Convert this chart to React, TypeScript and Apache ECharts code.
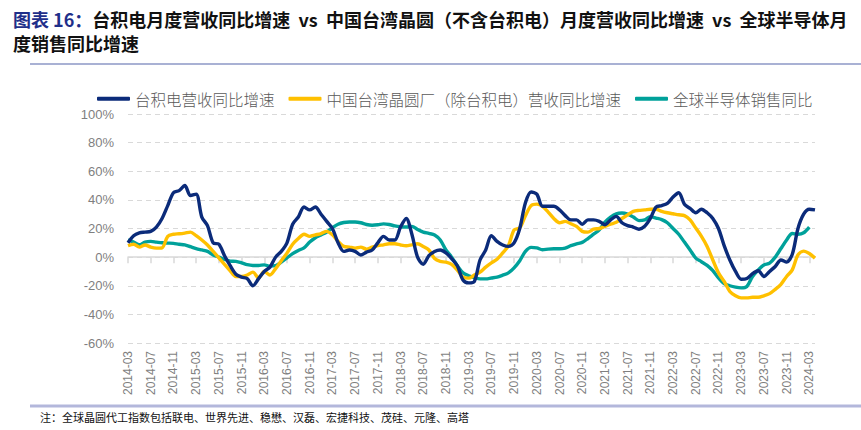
import React, { useEffect, useRef } from "react";
import * as echarts from "echarts";

// Monthly categories 2014-03 .. 2024-04
const startYear = 2014;
const startMonth = 3;
const monthCount = 122;
const categories: string[] = [];
for (let k = 0; k < monthCount; k++) {
  const m = startMonth - 1 + k;
  const y = startYear + Math.floor(m / 12);
  const mm = (m % 12) + 1;
  categories.push(`${y}-${mm < 10 ? "0" + mm : mm}`);
}

const tsmc = [
  10, 15, 17, 17.5, 18, 21, 27, 36, 45, 46.5, 50, 43, 44, 28, 22, 10, 9, 1, -6, -12,
  -14, -15, -20, -15, -10, -7, 0, 4, 10, 23, 28, 35, 33, 35, 30, 25, 20, 10, 4, 5,
  4, 1.5, 3.5, 5, 10, 14.5, 12, 12, 21, 27, 16, 0, -5, 1, 4, 5, 3, -1, -6, -16,
  -18, -17, -2, 5, 15, 11, 8.5, 7.5, 10, 20, 38, 45.5, 44, 35.5, 35.5, 35.5, 33, 29, 26, 26,
  23, 26, 26, 25, 22.6, 26, 28.5, 24, 22, 21, 19.5, 21.5, 27, 35, 36, 37.5, 42, 45, 37, 34,
  31, 33.5, 31, 27, 20, 8, -2, -10, -15.5, -15, -11.5, -9.5, -13.5, -10, -6.5, -2, -3.5, 2, 20, 30,
  33.5, 33,
];

const twFoundry = [
  8, 9, 7, 8.5, 7, 6.3, 6.5, 14.5, 16, 16.3, 16.8, 17.5, 15, 12, 8.5, 4, -0.5, -5, -9.5, -13.5,
  -13.5, -12.5, -10.5, -14.5, -10, -12.5, -8, -2.5, 2.8, 9, 13, 16, 14.5, 15.5, 16.5, 18, 15.6, 11, 7.5, 7,
  6.3, 7, 5.6, 7, 8, 8.6, 9.3, 9.3, 8.5, 8, 8.6, 9.3, 7.5, 5, -1, -3, -3.5, -5, -9, -14,
  -14.7, -12.5, -10.5, -7, -4, -1.5, 3, 8, 19, 20.5, 29, 36, 37, 35.5, 31.5, 27, 24, 25, 23.3, 21.5,
  18, 17.5, 19.5, 20, 21.5, 23, 24.3, 27, 29.5, 32, 32.7, 33, 33.5, 33.5, 32, 31, 30.3, 29.6, 29, 26,
  20.3, 14.5, 7.5, -2, -11, -17, -24, -27, -28.5, -28.5, -28, -28, -27, -25.5, -22.5, -19, -13.5, -8.9, 1.5, 4.2,
  2.5, -0.7,
];

const globalSemi = [
  12, 10.5, 8.6, 10.5, 11, 10.5, 10, 9.8, 9.6, 9, 8.6, 7.3, 6, 5, 4, 1.5, 0, -1.5, -2.8, -3,
  -4, -5.3, -5.8, -5.8, -5.4, -6.3, -6, -3.5, -0.5, 2.5, 4.7, 6.5, 10.5, 13.5, 15.5, 17.5, 20.5, 23, 24.2, 24.5,
  24.5, 24, 22.8, 22.3, 22.6, 23.2, 22.8, 21.8, 21.2, 21, 21.5, 19.3, 17.5, 16.6, 15.5, 12, 5, 0, -6, -11,
  -13, -14.3, -15.2, -15.2, -14.6, -14, -12.6, -11, -7.5, -2.5, 4, 6.8, 6.5, 5.2, 5.6, 5.8, 5.8, 6.3, 8, 9.3,
  10.3, 13, 16, 19, 24.5, 28, 30.3, 30.8, 30, 28, 25.5, 26, 28.3, 27.3, 26.2, 24, 20, 16, 10.5, 5,
  -0.7, -3.2, -5.8, -9.5, -14.5, -18.5, -20, -21, -21.5, -20.5, -13.5, -9, -5.5, -4.2, 0, 6, 12, 16.5, 16, 17,
  21, null,
];

const seriesNames = ["台积电营收同比增速", "中国台湾晶圆厂（除台积电）营收同比增速", "全球半导体销售同比"];
const seriesColors = ["#0b2b7a", "#ffc000", "#00a19a"];

const titleBlue = "图表 16：";
const titleLine1 = "台积电月度营收同比增速  vs  中国台湾晶圆（不含台积电）月度营收同比增速  vs  全球半导体月";
const titleLine2 = "度销售同比增速";
const noteText = "注：全球晶圆代工指数包括联电、世界先进、稳懋、汉磊、宏捷科技、茂硅、元隆、高塔";

const yMin = -60;
const yMax = 100;
const yStep = 20;

export default function App() {
  const ref = useRef<HTMLDivElement>(null);
  useEffect(() => {
    if (!ref.current) return;
    const chart = echarts.init(ref.current, undefined, { renderer: "svg" });
    const font = "'Noto Sans CJK SC', 'Noto Sans', sans-serif";
    const values = [tsmc, twFoundry, globalSemi];
    chart.setOption({
      animation: false,
      backgroundColor: "#ffffff",
      textStyle: { fontFamily: font },
      grid: { left: 128, right: 46, top: 114, bottom: 87, containLabel: false },
      legend: {
        left: 92,
        top: 86,
        itemWidth: 33,
        itemHeight: 4,
        itemGap: 14,
        icon: "roundRect",
        textStyle: { color: "#595959", fontSize: 15.5, fontFamily: font, fontWeight: 300 },
        data: seriesNames,
      },
      xAxis: [
        {
          type: "category",
          data: categories,
          boundaryGap: false,
          position: "bottom",
          axisLine: { show: false, onZero: false },
          axisTick: { show: false },
          axisLabel: {
            interval: 3,
            rotate: 90,
            color: "#7f7f7f",
            fontSize: 12,
            margin: 8,
            fontFamily: "'Liberation Sans', Arial, sans-serif",
          },
          splitLine: { show: false },
        },
        {
          type: "category",
          data: categories,
          boundaryGap: false,
          position: "bottom",
          axisLine: { show: true, onZero: true, lineStyle: { color: "#d9d9d9", width: 1.5 } },
          axisTick: { show: true, interval: 3, length: 6, lineStyle: { color: "#d9d9d9", width: 1.5 } },
          axisLabel: { show: false },
          splitLine: { show: false },
        },
      ],
      yAxis: {
        type: "value",
        min: yMin,
        max: yMax,
        interval: yStep,
        axisLine: { show: false },
        axisTick: { show: false },
        axisLabel: {
          formatter: "{value}%",
          color: "#7f7f7f",
          fontSize: 13,
          margin: 14,
          fontFamily: "'Liberation Sans', Arial, sans-serif",
        },
        splitLine: { show: true, lineStyle: { color: "#d9d9d9", type: [5, 4], width: 1.2 } },
      },
      series: seriesNames.map((name, idx) => ({
        name,
        type: "line",
        xAxisIndex: 0,
        data: values[idx],
        showSymbol: false,
        smooth: 0.3,
        color: seriesColors[idx],
        lineStyle: { width: 3.4, color: seriesColors[idx] },
        z: 3 - idx,
      })),
      graphic: [
        {
          type: "text",
          left: 13,
          top: 10,
          style: {
            text: `{b|${titleBlue}}{k|${titleLine1}}\n{k|${titleLine2}}`,
            rich: {
              b: { fill: "#1f2f8a", fontSize: 18, fontWeight: "bold", fontFamily: font, lineHeight: 24 },
              k: { fill: "#111111", fontSize: 18, fontWeight: "bold", fontFamily: font, lineHeight: 24 },
            },
          },
        },
        {
          type: "line",
          shape: { x1: 30, y1: 64, x2: 861, y2: 64 },
          style: { stroke: "#8d97c6", lineWidth: 1.5 },
        },
        {
          type: "line",
          shape: { x1: 30, y1: 406, x2: 861, y2: 406 },
          style: { stroke: "#b3b7db", lineWidth: 3 },
        },
        {
          type: "text",
          left: 40,
          top: 411,
          style: { text: noteText, fill: "#111111", fontSize: 11, fontFamily: font },
        },
      ],
    });
    return () => chart.dispose();
  }, []);
  return (
    <div
      ref={ref}
      style={{ position: "fixed", left: 0, top: 0, width: 861, height: 430, background: "#fff" }}
    />
  );
}
